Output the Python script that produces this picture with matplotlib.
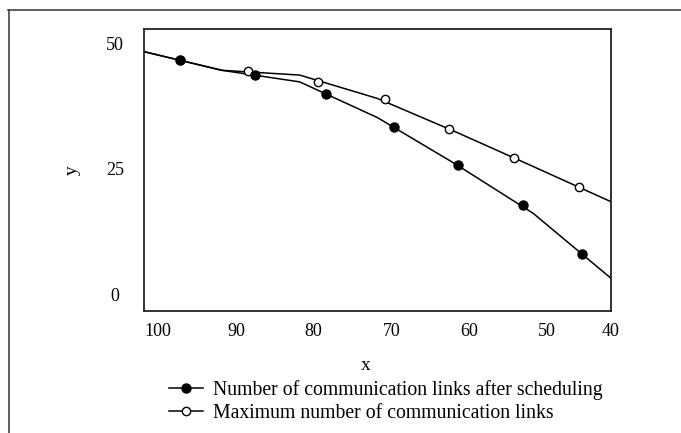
import numpy as np
import matplotlib
matplotlib.use("Agg")
import matplotlib.pyplot as plt
import matplotlib.transforms as mtransforms
from matplotlib.lines import Line2D

plt.rcParams['font.family'] = ['Liberation Serif', 'DejaVu Serif']

# line vertices (every 10 units on x)
line_x = [100, 90, 80, 70, 60, 50, 40]
sched_line = [48.3, 44.6, 42.3, 35.2, 26.0, 16.2, 3.3]
max_line = [48.3, 44.6, 43.65, 39.0, 32.4, 25.5, 18.5]

# marker samples
sched_mx = [95.4, 85.8, 76.6, 67.9, 59.6, 51.3, 43.7]
sched_my = [46.6, 43.65, 39.8, 33.4, 25.7, 17.8, 8.1]
max_mx = [95.4, 86.7, 77.7, 69.0, 60.8, 52.5, 44.1]
max_my = [46.6, 44.4, 42.3, 38.8, 33.0, 27.2, 21.5]

xticks = [100, 90, 80, 70, 60, 50, 40]
yticks = [0, 25, 50]
labels = ["Number of communication links after scheduling",
          "Maximum number of communication links"]

fig = plt.figure(figsize=(6.81, 4.33), dpi=100)
ax = fig.add_axes([144/681, 1-311/433, 467/681, 282/433])

lw = 1.1
ax.plot(line_x, max_line, color='black', lw=lw, zorder=2)
ax.plot(line_x, sched_line, color='black', lw=lw, zorder=2)
ax.plot(max_mx, max_my, 'o', ms=6.0, mfc='white', mec='black', mew=1.0, zorder=3)
ax.plot(sched_mx, sched_my, 'o', ms=6.5, mfc='black', mec='black', zorder=4)

ax.set_xlim(100, 40)
ax.set_ylim(-3.2, 52.8)
ax.set_xticks(xticks)
ax.set_yticks(yticks)
ax.tick_params(length=0, labelsize=13)
ax.tick_params(axis='x', pad=8.5)
ax.tick_params(axis='y', pad=21)
for t in ax.get_yticklabels():
    t.set_ha('center')
# x tick labels sit a bit to the right of their ticks in the original
for t in ax.get_xticklabels()[:-1]:
    t.set_transform(t.get_transform() + mtransforms.ScaledTranslation(14/100, 0, fig.dpi_scale_trans))

for s in ax.spines.values():
    s.set_linewidth(1.3)
    s.set_color('#222222')

ax.set_xlabel('x', fontsize=14)
ax.xaxis.set_label_coords((366-144)/467, (311-366)/282)
ax.xaxis.label.set_va('center')
ax.set_ylabel('y', fontsize=14)
ax.yaxis.set_label_coords((72-144)/467, (311-170)/282)
ax.yaxis.label.set_va('center')

handles = [Line2D([], [], color='black', lw=lw, marker='o', ms=6.5, mfc='black', mec='black'),
           Line2D([], [], color='black', lw=lw, marker='o', ms=6.0, mfc='white', mec='black', mew=1.0)]
fig.legend(handles, labels, loc='upper left', bbox_to_anchor=(169/681, 1-380/433),
           frameon=False, fontsize=14.2, handlelength=1.73, handletextpad=0.5,
           labelspacing=0.2, borderaxespad=0, borderpad=0)

# outer frame (cropped figure border)
fig.add_artist(Line2D([8/681, 1], [1-10/433, 1-10/433], color='#333333', lw=1.1))
fig.add_artist(Line2D([9/681, 9/681], [0, 1-10/433], color='#333333', lw=1.1))

fig.savefig('out.png', dpi=100)
